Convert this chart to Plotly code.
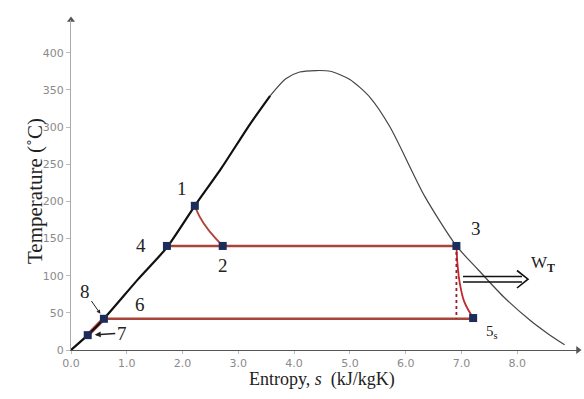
import plotly.graph_objects as go

# --- data ---
liq_s = [0.0, 0.30, 0.59, 1.20, 1.72, 2.22, 2.70, 3.21, 3.57]
liq_T = [0, 20, 42, 95, 138, 194, 245, 304, 342]
dome_s = [3.57, 3.85, 4.10, 4.39, 4.65, 5.00, 5.36, 5.72, 6.34, 6.91, 7.30, 7.75, 8.23, 8.55, 8.85]
dome_T = [342, 365, 374, 376, 375, 364, 340, 300, 207, 140, 108, 72, 40, 22, 7]

pts_s = [2.22, 2.72, 6.91, 1.72, 7.21, 0.30, 0.59]
pts_T = [194, 140, 140, 140, 43, 20, 42]
pts_lab = ["1", "2", "3", "4", "5s", "7", "8"]

p12_s = [2.22, 2.31, 2.46, 2.72]
p12_T = [194, 179, 162, 140]
p35_s = [6.91, 6.93, 6.97, 7.05, 7.21]
p35_T = [140, 115, 90, 65, 43]
high_s = [1.72, 6.91]
high_T = [140, 140]
low_s = [0.59, 7.21]
low_T = [42, 42]
pump_s = [0.30, 0.59]
pump_T = [20, 42]

xticks = [0, 1, 2, 3, 4, 5, 6, 7, 8]
xticktext = ["0.0", "1.0", "2.0", "3.0", "4.0", "5.0", "6.0", "7.0", "8.0"]
yticks = [0, 50, 100, 150, 200, 250, 300, 350, 400]

XMAX, YMAX = 9.09, 444
W, H = 584, 399
L, R, T, B = 71, 6, 20, 49


def px(xp):
    return (xp - L) / (W - L - R)


def py(yp):
    return (H - B - yp) / (H - T - B)


RED = "#a8443a"
fig = go.Figure()

fig.add_trace(go.Scatter(x=pump_s, y=pump_T, mode="lines", line=dict(color="#c0504d", width=4)))
fig.add_trace(go.Scatter(x=liq_s, y=liq_T, mode="lines", line=dict(color="#111", width=2.2, shape="spline", smoothing=0.6)))
fig.add_trace(go.Scatter(x=dome_s, y=dome_T, mode="lines", line=dict(color="#444", width=1.2, shape="spline", smoothing=0.7)))
fig.add_trace(go.Scatter(x=high_s, y=high_T, mode="lines", line=dict(color=RED, width=2.6)))
fig.add_trace(go.Scatter(x=low_s, y=low_T, mode="lines", line=dict(color=RED, width=2.6)))
fig.add_trace(go.Scatter(x=p12_s, y=p12_T, mode="lines", line=dict(color="#b0443a", width=1.8, shape="spline")))
fig.add_trace(go.Scatter(x=p35_s, y=p35_T, mode="lines", line=dict(color="#c0282a", width=1.8, shape="spline")))
fig.add_trace(go.Scatter(x=[pts_s[2], pts_s[2]], y=[pts_T[2], low_T[0]], mode="lines",
                         line=dict(color="#9a1c2a", width=1.8, dash="dot")))
fig.add_trace(go.Scatter(x=pts_s, y=pts_T, mode="markers",
                         marker=dict(symbol="square", size=8, color="#1c2d5a")))
# axis arrowheads
fig.add_trace(go.Scatter(x=[XMAX], y=[0], mode="markers", cliponaxis=False,
                         marker=dict(symbol="triangle-right", size=7, color="#555")))
fig.add_trace(go.Scatter(x=[0], y=[YMAX], mode="markers", cliponaxis=False,
                         marker=dict(symbol="triangle-up", size=7, color="#555")))

SERIF = "Liberation Serif"
lab_font = dict(family=SERIF, size=19, color="#222")
offs = {"1": (-13, -17), "2": (0, 20), "3": (20, -17), "4": (-26, 0), "5s": (19, 14)}
anns = []
for s, t, lab in zip(pts_s, pts_T, pts_lab):
    if lab in offs:
        dx, dy = offs[lab]
        txt = "5<sub>s</sub>" if lab == "5s" else lab
        f = dict(lab_font)
        if lab == "5s":
            f["size"] = 15
        anns.append(dict(x=s, y=t, text=txt, showarrow=False, xshift=dx, yshift=-dy, font=f))
# 8 and 7 with arrows
anns.append(dict(x=pts_s[6], y=pts_T[6], text="8", showarrow=True, ax=-19, ay=-27,
                 arrowhead=2, arrowsize=0.8, arrowwidth=1, arrowcolor="#222", standoff=6,
                 font=lab_font))
anns.append(dict(x=pts_s[5], y=pts_T[5], text="7", showarrow=True, ax=34, ay=-2,
                 arrowhead=2, arrowsize=0.8, arrowwidth=1.5, arrowcolor="#222", standoff=7,
                 font=lab_font))
anns.append(dict(x=1.24, y=42, text="6", showarrow=False, yshift=14, font=lab_font))
# W_T
anns.append(dict(x=px(557), y=py(277), xref="paper", yref="paper", text="W<sub><b>T</b></sub>",
                 showarrow=False, font=dict(family=SERIF, size=17, color="#222")))
# axis titles
anns.append(dict(x=px(322), y=py(391), xref="paper", yref="paper", text="Entropy, <i>s</i>  (kJ/kgK)",
                 showarrow=False, borderpad=0, font=dict(family=SERIF, size=18, color="#222")))
anns.append(dict(x=px(21), y=py(191), xref="paper", yref="paper", text="Temperature (˚C)",
                 textangle=-90, showarrow=False, font=dict(family=SERIF, size=21, color="#222")))

shapes = [
    dict(type="line", xref="paper", yref="paper", x0=px(463), x1=px(522), y0=py(276.5), y1=py(276.5),
         line=dict(color="#111", width=1.6)),
    dict(type="line", xref="paper", yref="paper", x0=px(463), x1=px(522), y0=py(282), y1=py(282),
         line=dict(color="#111", width=1.6)),
    dict(type="path", xref="paper", yref="paper",
         path=f"M {px(517)} {py(270.5)} L {px(528)} {py(279.2)} L {px(517)} {py(288)}",
         line=dict(color="#111", width=1.6)),
]

fig.update_layout(
    width=W, height=H, autosize=False,
    margin=dict(l=L, r=R, t=T, b=B, pad=0),
    paper_bgcolor="white", plot_bgcolor="white",
    showlegend=False,
    annotations=anns, shapes=shapes,
    xaxis=dict(range=[0, XMAX], tickvals=xticks, ticktext=xticktext, showgrid=False, zeroline=False,
               showline=True, linecolor="#555", linewidth=1.2, ticks="outside", ticklen=3, tickcolor="#bbb",
               tickfont=dict(family="DejaVu Sans", size=11, color="#8a8a8a")),
    yaxis=dict(range=[0, YMAX], tickvals=yticks, showgrid=False, zeroline=False,
               showline=True, linecolor="#aaa", linewidth=1.2, ticks="outside", ticklen=4, tickcolor="#bbb",
               tickfont=dict(family="DejaVu Sans", size=11, color="#8a8a8a")),
)

fig.write_html("out.html")
